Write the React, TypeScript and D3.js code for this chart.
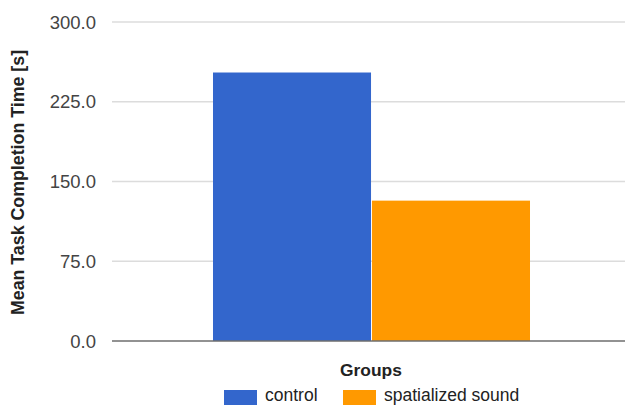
import React from "react";
import * as d3 from "d3";

const categories = ["Groups"];
const seriesNames = ["control", "spatialized sound"];
const seriesValues = [252.5, 132];
const seriesColors = ["#3366cc", "#ff9900"];
const yTicks = [0, 75, 150, 225, 300];

const W = 625;
const H = 405;

export default function App() {
  const y = d3.scaleLinear().domain([0, 300]).range([341, 22]);
  const x = d3
    .scaleBand<string>()
    .domain(categories)
    .range([112, 631])
    .paddingInner(0)
    .paddingOuter(0.3186);
  const xs = d3
    .scaleBand<string>()
    .domain(seriesNames)
    .range([0, x.bandwidth()])
    .paddingInner(0.006);
  const font = "Arial, 'Liberation Sans', sans-serif";
  const fmt = d3.format(".1f");
  const legendX = [224, 343];
  return (
    <svg
      width={W}
      height={H}
      style={{ position: "absolute", left: 0, top: 0, background: "#fff" }}
      fontFamily={font}
    >
      {yTicks.map((t) => (
        <g key={t}>
          {t !== 0 && (
            <line x1={112} x2={W} y1={y(t)} y2={y(t)} stroke="#dcdcdc" strokeWidth={1.5} />
          )}
          <text x={96} y={y(t) + 6.5} textAnchor="end" fontSize={18.5} fill="#444">
            {fmt(t)}
          </text>
        </g>
      ))}
      {categories.map((c) =>
        seriesNames.map((s, i) => (
          <rect
            key={c + s}
            x={(x(c) as number) + (xs(s) as number)}
            y={y(seriesValues[i])}
            width={xs.bandwidth()}
            height={y(0) - y(seriesValues[i])}
            fill={seriesColors[i]}
          />
        ))
      )}
      <line x1={112} x2={W} y1={y(0)} y2={y(0)} stroke="#6e6e6e" strokeWidth={1.6} />
      <text
        transform={`translate(24,${(45 + 320) / 2}) rotate(-90)`}
        textAnchor="middle"
        fontSize={17.8}
        fontWeight="bold"
        fill="#222"
      >
        Mean Task Completion Time [s]
      </text>
      <text x={371} y={376} textAnchor="middle" fontSize={17.4} fontWeight="bold" fill="#222">
        Groups
      </text>
      {seriesNames.map((s, i) => (
        <g key={s}>
          <rect x={legendX[i]} y={390} width={33} height={20} fill={seriesColors[i]} />
          <text x={legendX[i] + 41} y={401} fontSize={17.5} fill="#222">
            {s}
          </text>
        </g>
      ))}
    </svg>
  );
}
